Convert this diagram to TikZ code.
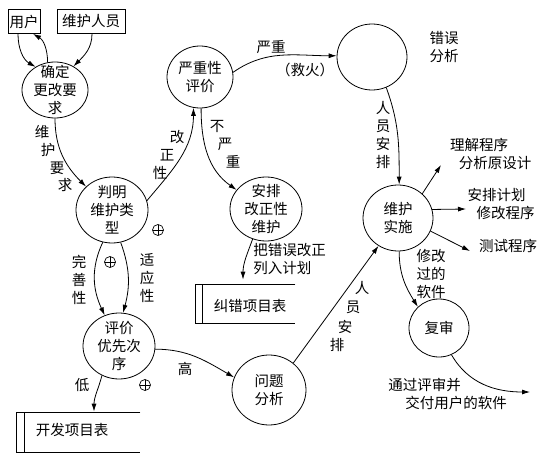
\documentclass[tikz,border=0pt]{standalone}
\usepackage{fontspec}
\setmainfont{Noto Sans CJK SC}
\usetikzlibrary{shapes.geometric,arrows.meta}
\begin{document}
\begin{tikzpicture}[x=1pt,y=-1pt,line width=0.8pt,
  txt/.style={font=\fontsize{14.5}{18}\selectfont, inner sep=0pt, align=center},
  proc/.style={ellipse, draw, txt, inner sep=-10pt},
  box/.style={draw, rectangle, txt, inner sep=0pt},
  store/.style={inner sep=0pt},
  arr/.style={-{Latex[length=8pt,width=5pt]}},
  opl/.style={circle, draw, inner sep=0pt, minimum size=11pt, line width=0.7pt,
    path picture={\draw[line width=0.7pt] (path picture bounding box.north) -- (path picture bounding box.south)
      (path picture bounding box.west) -- (path picture bounding box.east);}}
]
\useasboundingbox (0,0) rectangle (548,465);
% boxes
\node[box, minimum width=32pt, minimum height=24pt] (yh) at (24,21.5) {用户};
\node[box, minimum width=68pt, minimum height=24pt] (wr) at (91,21.5) {维护人员};
% processes
\node[proc, minimum width=66pt, minimum height=56pt] (q) at (55,90) {确定\\更改要\\求};
\node[proc, minimum width=72pt, minimum height=66pt] (pm) at (112,210) {判明\\维护类\\型};
\node[proc, minimum width=66pt, minimum height=62pt] (yz) at (200,77) {严重性\\评价};
\node[proc, minimum width=70pt, minimum height=66pt] (cw) at (372,57) {};
\node[txt, align=left] (cwt) at (444,47) {错误\\分析};
\node[proc, minimum width=72pt, minimum height=64pt] (ap) at (266,209) {安排\\改正性\\维护};
\node[proc, minimum width=72pt, minimum height=66pt] (pj) at (119,346) {评价\\优先次\\序};
\node[proc, minimum width=74pt, minimum height=70pt] (wt) at (269,390) {问题\\分析};
\node[proc, minimum width=70pt, minimum height=66pt] (ss) at (398,218) {维护\\实施};
\node[proc, minimum width=60pt, minimum height=58pt] (fs) at (439,328) {复审};
% stores
\node[store, minimum width=99pt, minimum height=38pt] (jc) at (245.5,304) {};
\draw (jc.north east) -- (jc.north west) -- (jc.south west) -- (jc.south east);
\draw ([xshift=7pt]jc.north west) -- ([xshift=7pt]jc.south west);
\node[txt] (jct) at (250,306) {纠错项目表};
\node[store, minimum width=123pt, minimum height=39pt] (kf) at (78.5,432.5) {};
\draw (kf.north east) -- (kf.north west) -- (kf.south west) -- (kf.south east);
\draw ([xshift=8pt]kf.north west) -- ([xshift=8pt]kf.south west);
\node[txt] (kft) at (72,430) {开发项目表};
% free ends
\coordinate (lj) at (441,165);
\coordinate (aj) at (466,209);
\coordinate (cs) at (470,251);
\coordinate (out) at (530,392);
% connectors
\draw[arr] ([xshift=-6pt]yh.south) to[out=-90,in=150] (q.130);
\draw[arr] (q.105) to[out=90,in=-30] ([xshift=9pt]yh.south);
\draw[arr] ([xshift=1pt]wr.south) to[out=-90,in=45] (q.52);
\draw[arr] (q.-90) to[out=-90,in=135] (pm.138);
\draw[arr] (pm.15) to[out=50,in=-90] (yz.-102);
\draw[arr] (yz.-88) to[out=-90,in=145] (ap.147);
\draw[arr] (yz.8) to[out=35,in=180] (cw.178);
\draw[arr] (cw.-65) to[out=-70,in=90] (ss.88);
\draw[arr] (ss.45) -- (lj);
\draw[arr] (ss.14) -- (aj);
\draw[arr] (ss.-22) -- (cs);
\draw[arr] (ss.-88) to[out=-90,in=122] (fs.135);
\draw[arr] (fs.-65) to[out=-60,in=180] (out);
\draw[arr] (pm.-106) to[out=-115,in=115] (pj.115);
\draw[arr] (pm.-75) to[out=-70,in=75] (pj.83);
\draw[arr] (pj.-120) to[out=-105,in=90] ([xshift=15.5pt,yshift=1pt]kf.north);
\draw[arr] (pj.-5) to[out=0,in=150] (wt.160);
\draw[arr] (wt.48) -- (ss.-125);
\draw[arr] (ap.-114) to[out=-110,in=90] ([xshift=-2.5pt,yshift=5pt]jc.north);
% labels
\node[txt] (a1) at (42,132) {维};
\node[txt] (a2) at (48,150) {护};
\node[txt] (a3) at (57,168) {要};
\node[txt] (a4) at (65,185) {求};
\node[txt] (b1) at (177,137) {改};
\node[txt] (b2) at (167,155) {正};
\node[txt] (b3) at (160,173) {性};
\node[txt] (c1) at (217,126) {不};
\node[txt] (c2) at (225,144) {严};
\node[txt] (c3) at (233,162) {重};
\node[txt] (d1) at (271,47) {严重};
\node[txt] (d2) at (305,70) {（救火）};
\node[txt] (e1) at (383,135) {人\\员\\安\\排};
\node[txt] (f1) at (79,280) {完\\善\\性};
\node[txt] (g1) at (147,278.5) {适\\应\\性};
\node[txt] (h1) at (82,385) {低};
\node[txt] (h2) at (185,369) {高};
\node[txt] (i1) at (362,288) {人};
\node[txt] (i2) at (353,307) {员};
\node[txt] (i3) at (345,327) {安};
\node[txt] (i4) at (337,345) {排};
\node[txt, align=left, anchor=west] (j1) at (253,259) {把错误改正\\列入计划};
\node[txt] (k1) at (479,145) {理解程序};
\node[txt] (k2) at (495,163) {分析原设计};
\node[txt] (k3) at (496.5,195) {安排计划};
\node[txt] (k4) at (505.5,213) {修改程序};
\node[txt] (k5) at (508,246) {测试程序};
\node[txt] (m1) at (431,274) {修改\\过的\\软件};
\node[txt] (n1) at (424.5,385) {通过评审并};
\node[txt] (n2) at (456,403) {交付用户的软件};
% oplus marks
\node[opl] (o1) at (158,230) {};
\node[opl] (o2) at (110,262) {};
\node[opl] (o3) at (145,385) {};
\end{tikzpicture}
\end{document}
